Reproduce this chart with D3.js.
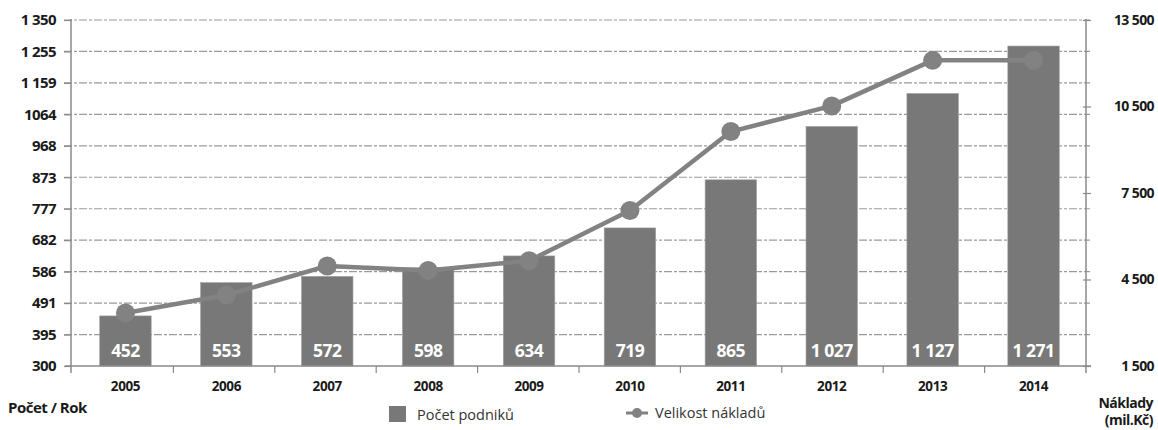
<!DOCTYPE html>
<html><head><meta charset="utf-8">
<script src="https://cdn.jsdelivr.net/npm/d3@7"></script>
<style>
body{margin:0;background:#fff;}
text{font-family:"Open Sans",sans-serif;}
</style></head><body>
<svg id="c" width="1158" height="430"></svg>
<script>
const years = ["2005","2006","2007","2008","2009","2010","2011","2012","2013","2014"];
const podniky = [452,553,572,598,634,719,865,1027,1127,1271];
const naklady = [3340,3960,4970,4810,5150,6890,9630,10520,12100,12100];
const leftTicks = [300,395.45,490.9,586.36,681.82,777.27,872.73,968.18,1063.64,1159.09,1254.55,1350];
const leftTickLabels = ["300","395","491","586","682","777","873","968","1064","1 159","1 255","1 350"];
const rightTicks = [1500,4500,7500,10500,13500];
const rightTickLabels = ["1 500","4 500","7 500","10 500","13 500"];
const barLabels = ["452","553","572","598","634","719","865","1 027","1 127","1 271"];

const svg = d3.select("#c");
const X0 = 71, X1 = 1086, Y0 = 366, Y1 = 20;
const x = d3.scaleBand().domain(years).range([75,1084]).paddingInner(0.49).paddingOuter(0.245);
const xb = d3.scaleBand().domain(years).range([X0+1,X1]);
const yL = d3.scaleLinear().domain([300,1350]).range([Y0,Y1]);
const yR = d3.scaleLinear().domain([1500,13500]).range([Y0,Y1]);
const gray = "#8a8a8a";

// gridlines
svg.append("g").selectAll("line").data(leftTicks.slice(1)).join("line")
  .attr("x1",X0-7).attr("x2",X1+4)
  .attr("y1",d=>yL(d)).attr("y2",d=>yL(d))
  .attr("stroke","#9a9a9a").attr("stroke-width",1.2)
  .attr("stroke-dasharray","8,2,3,2");

// left axis
const gL = svg.append("g").attr("transform",`translate(${X0},0)`)
  .call(d3.axisLeft(yL).tickValues(leftTicks).tickFormat((d,i)=>leftTickLabels[i]).tickSize(7).tickPadding(8));
gL.select(".domain").remove();
gL.selectAll(".tick line").attr("stroke",gray).attr("stroke-width",1.2);
gL.selectAll("text").attr("font-size",15).attr("font-weight",700).attr("fill","#1a1a1a").attr("font-family","Open Sans").attr("letter-spacing",-0.6);
svg.append("line").attr("x1",X0).attr("x2",X0).attr("y1",Y1-1).attr("y2",Y0+7).attr("stroke",gray).attr("stroke-width",1.5);

// right axis
const gR = svg.append("g").attr("transform",`translate(${X1},0)`)
  .call(d3.axisRight(yR).tickValues(rightTicks).tickFormat((d,i)=>rightTickLabels[i]).tickSize(5).tickPadding(0));
gR.select(".domain").remove();
gR.selectAll(".tick line").attr("stroke",gray).attr("stroke-width",1.2).attr("x1",-3);
gR.selectAll("text").attr("font-size",14).attr("font-weight",700).attr("fill","#1a1a1a").attr("font-family","Open Sans").attr("letter-spacing",-0.6)
  .attr("text-anchor","end").attr("x",1154-X1);
svg.append("line").attr("x1",X1).attr("x2",X1).attr("y1",Y1-1).attr("y2",Y0+7).attr("stroke",gray).attr("stroke-width",1.5);

// bars
svg.append("g").selectAll("rect").data(years).join("rect")
  .attr("x",d=>x(d)).attr("width",x.bandwidth())
  .attr("y",(d,i)=>yL(podniky[i])).attr("height",(d,i)=>Y0-yL(podniky[i]))
  .attr("fill","#787878").attr("stroke","#a0a0a0").attr("stroke-width",0.6);

// bottom axis
const gB = svg.append("g").attr("transform",`translate(0,${Y0})`)
  .call(d3.axisBottom(x).tickSize(0).tickPadding(15));
gB.select(".domain").remove();
gB.selectAll("text").attr("font-size",13.5).attr("font-weight",700).attr("fill","#1a1a1a").attr("font-family","Open Sans").attr("letter-spacing",-0.4);
svg.append("line").attr("x1",X0-6).attr("x2",X1+5).attr("y1",Y0).attr("y2",Y0).attr("stroke",gray).attr("stroke-width",1.5);
svg.append("g").selectAll("line").data(years.slice(1)).join("line")
  .attr("x1",d=>xb(d)).attr("x2",d=>xb(d)).attr("y1",Y0).attr("y2",Y0+7)
  .attr("stroke",gray).attr("stroke-width",1.2);

// bar labels
svg.append("g").selectAll("text").data(years).join("text")
  .attr("x",d=>x(d)+x.bandwidth()/2).attr("y",357)
  .attr("text-anchor","middle").attr("font-size",17.5).attr("font-weight",700)
  .attr("fill","#fff").attr("letter-spacing",-0.5)
  .text((d,i)=>barLabels[i]);

// line
const line = d3.line().x((d,i)=>x(years[i])+x.bandwidth()/2).y(d=>yR(d));
svg.append("path").datum(naklady).attr("d",line).attr("fill","none")
  .attr("stroke","#828282").attr("stroke-width",4.5).attr("stroke-linejoin","round");
svg.append("g").selectAll("circle").data(naklady).join("circle")
  .attr("cx",(d,i)=>x(years[i])+x.bandwidth()/2).attr("cy",d=>yR(d)).attr("r",9.5)
  .attr("fill","#828282");

// axis titles
svg.append("text").attr("x",8).attr("y",413).attr("font-size",15).attr("font-weight",700).attr("fill","#1a1a1a").attr("letter-spacing",-0.5).text("Počet / Rok");
svg.append("text").attr("x",1153).attr("y",408).attr("text-anchor","end").attr("font-size",14).attr("font-weight",700).attr("fill","#1a1a1a").attr("letter-spacing",-0.5).text("Náklady");
svg.append("text").attr("x",1153).attr("y",425).attr("text-anchor","end").attr("font-size",14).attr("font-weight",700).attr("fill","#1a1a1a").attr("letter-spacing",-0.5).text("(mil.Kč)");

// legend
const lg = svg.append("g");
lg.append("rect").attr("x",389).attr("y",406).attr("width",17).attr("height",16).attr("fill","#787878");
lg.append("text").attr("x",417).attr("y",420).attr("font-size",14.5).attr("fill","#333").text("Počet podniků");
lg.append("line").attr("x1",626).attr("x2",648).attr("y1",413).attr("y2",413).attr("stroke","#828282").attr("stroke-width",3);
lg.append("circle").attr("cx",637).attr("cy",413).attr("r",5).attr("fill","#828282");
lg.append("text").attr("x",655).attr("y",418).attr("font-size",14.5).attr("fill","#333").text("Velikost nákladů");
</script>
</body></html>
